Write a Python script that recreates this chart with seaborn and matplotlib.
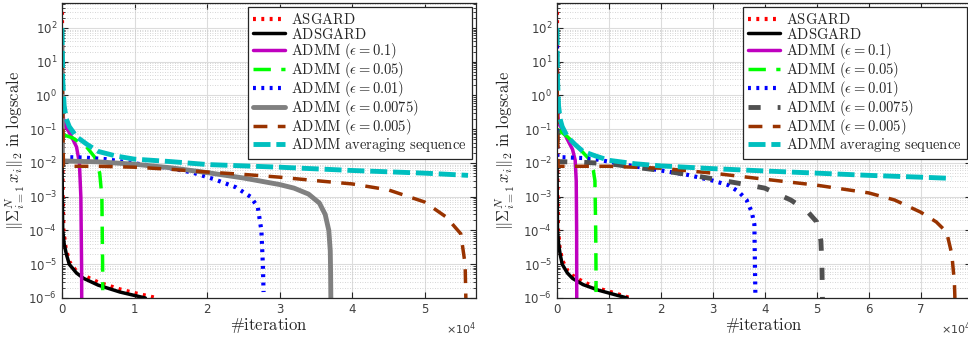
import numpy as np
import pandas as pd
import matplotlib
matplotlib.use("Agg")
import matplotlib.pyplot as plt
import matplotlib.ticker as mticker
import seaborn as sns

# ---------------- data ----------------
labels = ["ASGARD", "ADSGARD", "ADMM (eps = 0.1)", "ADMM (eps = 0.05)",
          "ADMM (eps = 0.01)", "ADMM (eps = 0.0075)", "ADMM (eps = 0.005)",
          "ADMM averaging sequence"]

# left panel
asgard_x_L = [0, 50, 100, 200, 500, 1000, 2000, 3000, 5000, 8000, 10000, 13000]
asgard_y_L = [300, 1e-2, 1e-3, 1e-4, 3e-5, 1.2e-5, 6e-6, 4.6e-6, 2.9e-6, 1.8e-6, 1.4e-6, 1e-6]
adsgard_x_L = [0, 50, 100, 300, 600, 1000, 2000, 3000, 5000, 8000, 11500]
adsgard_y_L = [1e-2, 1e-3, 1e-4, 4e-5, 2e-5, 1e-5, 5.5e-6, 3.8e-6, 2.4e-6, 1.5e-6, 1e-6]
a01_x_L = [0, 200, 500, 1000, 1500, 2000, 2400, 2600, 2700, 2720]
a01_y_L = [1.0, 0.2, 0.12, 0.08, 0.05, 0.03, 0.01, 1e-3, 1e-5, 1e-6]
a005_x_L = [0, 500, 1500, 2500, 3500, 4500, 5200, 5500, 5600, 5620]
a005_y_L = [0.07, 0.065, 0.055, 0.04, 0.028, 0.015, 5e-3, 1e-3, 1e-5, 1.7e-6]
a001_x_L = [0, 3000, 6000, 9000, 12000, 15000, 18000, 21000, 24000, 26000,
            27000, 27500, 27700, 27800]
a001_y_L = [1.5e-2, 1.45e-2, 1.3e-2, 1.05e-2, 8.5e-3, 7e-3, 5.2e-3, 3.3e-3, 1.9e-3,
            1e-3, 5e-4, 1e-4, 1e-5, 1.5e-6]
a0075_x_L = [0, 60, 5000, 10000, 15000, 20000, 25000, 30000, 32000, 34000, 35500,
             36300, 36800, 37000, 37050, 37080]
a0075_y_L = [30, 1.15e-2, 1.08e-2, 9.2e-3, 7.2e-3, 5.2e-3, 3.6e-3, 2.3e-3, 1.8e-3,
             1.2e-3, 6.5e-4, 3e-4, 1e-4, 2.5e-5, 5e-6, 1e-6]
a0005_x_L = [0, 200, 5000, 10000, 15000, 20000, 25000, 30000, 35000, 40000, 45000,
             50000, 53000, 55000, 55600, 55700]
a0005_y_L = [15, 8e-3, 8e-3, 7.5e-3, 6.5e-3, 5.4e-3, 4.6e-3, 3.8e-3, 3e-3, 2.4e-3,
             1.6e-3, 7e-4, 2.5e-4, 8e-5, 1e-5, 1e-6]
avg_x_L = [0, 100, 300, 600, 1000, 2000, 3500, 5000, 7500, 10000, 15000, 20000,
           30000, 40000, 50000, 56000]
avg_y_L = [100, 3, 0.5, 0.2, 0.12, 0.06, 0.035, 0.022, 0.016, 0.013, 0.011, 0.009,
           0.0075, 0.006, 0.005, 0.0043]

# right panel
asgard_x_R = [0, 50, 100, 200, 500, 1000, 2000, 3000, 5000, 8000, 11000, 14000]
asgard_y_R = [300, 1e-2, 1e-3, 1e-4, 3e-5, 1.3e-5, 6.5e-6, 4.6e-6, 3e-6, 1.9e-6, 1.4e-6, 1e-6]
adsgard_x_R = [0, 50, 100, 300, 600, 1000, 2000, 3000, 5000, 8000, 13500]
adsgard_y_R = [1e-2, 1e-3, 1e-4, 4e-5, 2e-5, 1e-5, 5.5e-6, 3.8e-6, 2.5e-6, 1.7e-6, 1e-6]
a01_x_R = [0, 300, 1000, 2000, 3000, 3500, 3700, 3780, 3800]
a01_y_R = [0.5, 0.15, 0.1, 0.05, 0.025, 0.012, 3e-3, 1e-4, 1e-6]
a005_x_R = [0, 500, 2000, 4000, 6000, 7000, 7300, 7450, 7500, 7520]
a005_y_R = [0.1, 0.09, 0.06, 0.03, 0.014, 6e-3, 3e-3, 1e-4, 1e-5, 1.5e-6]
a001_x_R = [0, 60, 5000, 8000, 12000, 16000, 20000, 25000, 30000, 33000, 35000,
            36500, 37500, 38000, 38100, 38200]
a001_y_R = [30, 1.5e-2, 1.4e-2, 1.25e-2, 9.5e-3, 7.5e-3, 6e-3, 4.5e-3, 3e-3, 2.2e-3,
            1.4e-3, 8e-4, 3.5e-4, 1.5e-4, 1e-5, 1e-6]
a0075_x_R = [0, 60, 5000, 10000, 15000, 20000, 25000, 30000, 35000, 40000, 45000,
             48000, 50000, 50800, 51000, 51100]
a0075_y_R = [5, 1.1e-2, 1.05e-2, 9.5e-3, 7.5e-3, 6e-3, 4.6e-3, 3.4e-3, 2.5e-3,
             1.8e-3, 8e-4, 4e-4, 1.8e-4, 5e-5, 1e-5, 1e-6]
a0005_x_R = [0, 200, 10000, 20000, 30000, 40000, 50000, 60000, 65000, 70000,
             73000, 75000, 76000, 76500, 76600]
a0005_y_R = [10, 8e-3, 8e-3, 7e-3, 5e-3, 3.3e-3, 2.2e-3, 1.3e-3, 8e-4, 3.5e-4,
             1.8e-4, 9e-5, 2e-5, 3e-6, 1e-6]
avg_x_R = [0, 100, 300, 600, 1000, 2000, 3500, 5000, 7500, 10000, 15000, 20000,
           30000, 40000, 50000, 60000, 70000, 76000]
avg_y_R = [100, 3, 0.5, 0.2, 0.12, 0.06, 0.035, 0.022, 0.016, 0.012, 0.0095, 0.0082,
           0.0068, 0.0058, 0.005, 0.0043, 0.0038, 0.0035]

left_data = [(asgard_x_L, asgard_y_L), (adsgard_x_L, adsgard_y_L), (a01_x_L, a01_y_L),
             (a005_x_L, a005_y_L), (a001_x_L, a001_y_L), (a0075_x_L, a0075_y_L),
             (a0005_x_L, a0005_y_L), (avg_x_L, avg_y_L)]
right_data = [(asgard_x_R, asgard_y_R), (adsgard_x_R, adsgard_y_R), (a01_x_R, a01_y_R),
              (a005_x_R, a005_y_R), (a001_x_R, a001_y_R), (a0075_x_R, a0075_y_R),
              (a0005_x_R, a0005_y_R), (avg_x_R, avg_y_R)]

legend_txt = [r"$\mathrm{ASGARD}$", r"$\mathrm{ADSGARD}$",
              r"$\mathrm{ADMM}\ (\epsilon = 0.1)$", r"$\mathrm{ADMM}\ (\epsilon = 0.05)$",
              r"$\mathrm{ADMM}\ (\epsilon = 0.01)$", r"$\mathrm{ADMM}\ (\epsilon = 0.0075)$",
              r"$\mathrm{ADMM}\ (\epsilon = 0.005)$", r"$\mathrm{ADMM\ averaging\ sequence}$"]

# ---------------- styles ----------------
sns.set_theme(style="ticks")
plt.rcParams["mathtext.fontset"] = "cm"
plt.rcParams["font.family"] = ["DejaVu Sans"]

base_styles = [
    dict(color="#ff0000", lw=3.0, linestyle=(0, (0.7, 1.3))),
    dict(color="#000000", lw=2.5, linestyle="-"),
    dict(color="#bf00bf", lw=2.5, linestyle="-"),
    dict(color="#00ff00", lw=2.5, linestyle=(0, (5, 3))),
    dict(color="#0000ff", lw=3.0, linestyle=(0, (0.7, 1.3))),
    dict(color="#808080", lw=3.5, linestyle="-"),
    dict(color="#993300", lw=2.5, linestyle=(0, (4, 3))),
    dict(color="#00bfbf", lw=3.5, linestyle=(0, (3.5, 1.2))),
]
right_styles = [dict(s) for s in base_styles]
right_styles[5] = dict(color="#505050", lw=3.5, linestyle=(0, (2.5, 3.5)))

fig = plt.figure(figsize=(9.68, 3.37), dpi=100)
W, H = 968.0, 337.0
ax_L = fig.add_axes([62 / W, (H - 298) / H, 414 / W, 295 / H])
ax_R = fig.add_axes([557 / W, (H - 298) / H, 414 / W, 295 / H])

tick_col = "#404040"


def sci_fmt(v, pos):
    e = int(round(np.log10(v)))
    return r"$10^{%d}$" % e


for ax, data, styles, xmax, lab_x in [(ax_L, left_data, base_styles, 5.71e4, -0.085),
                                      (ax_R, right_data, right_styles, 7.97e4, -0.097)]:
    ax.set_yscale("log")
    for (xs, ys), st, lab in zip(data, styles, legend_txt):
        df = pd.DataFrame({"it": xs, "val": ys})
        sns.lineplot(data=df, x="it", y="val", ax=ax, estimator=None, sort=False,
                     label=lab, legend=False, **st)
    ax.set_xlim(0, xmax)
    ax.set_ylim(1e-6, 10 ** 2.74)

    ax.xaxis.set_major_locator(mticker.MultipleLocator(1e4))
    ax.xaxis.set_major_formatter(mticker.FuncFormatter(lambda v, p: "%d" % round(v / 1e4)))
    ax.yaxis.set_major_locator(mticker.LogLocator(base=10, numticks=20))
    ax.yaxis.set_minor_locator(mticker.LogLocator(base=10, subs=np.arange(2, 10), numticks=20))
    ax.yaxis.set_major_formatter(mticker.FuncFormatter(sci_fmt))
    ax.yaxis.set_minor_formatter(mticker.NullFormatter())

    ax.tick_params(which="both", direction="in", top=True, right=True,
                   colors="#262626", labelcolor=tick_col, labelsize=8.5)
    ax.tick_params(which="major", length=4, width=0.8)
    ax.tick_params(which="minor", length=2, width=0.6)

    ax.grid(True, which="major", color="#dcdcdc", lw=0.8, ls="-")
    ax.grid(True, which="minor", axis="y", color="#c8c8c8", lw=0.6, ls=(0, (1, 2)))
    ax.set_axisbelow(True)
    for sp in ax.spines.values():
        sp.set_color("#262626")
        sp.set_linewidth(0.9)

    ax.set_xlabel(r"$\#\mathrm{iteration}$", fontsize=12, labelpad=0)
    ax.set_ylabel(r"$\|\Sigma_{i=1}^{N}\, x_i\|_2\ \mathrm{in\ logscale}$", fontsize=12)
    ax.yaxis.set_label_coords(lab_x, 0.5)
    ax.text(1.0, -0.075, r"$\times10^{4}$", transform=ax.transAxes, ha="right",
            va="top", fontsize=8, color=tick_col, math_fontfamily="dejavusans")

    handles, labs = ax.get_legend_handles_labels()
    leg = ax.legend(handles, labs, loc="upper right", fontsize=10.5, frameon=True,
                    fancybox=False, framealpha=1, edgecolor="#262626",
                    handlelength=2.2, handletextpad=0.4, labelspacing=-0.06,
                    borderpad=0.35, borderaxespad=0.3)
    leg.get_frame().set_linewidth(0.9)

# y tick labels in a sans math font (legend / labels stay Computer Modern)
fig.canvas.draw()
for ax in (ax_L, ax_R):
    for lab in ax.get_yticklabels():
        lab.set_math_fontfamily("dejavusans")

fig.savefig("out.png", dpi=100)
